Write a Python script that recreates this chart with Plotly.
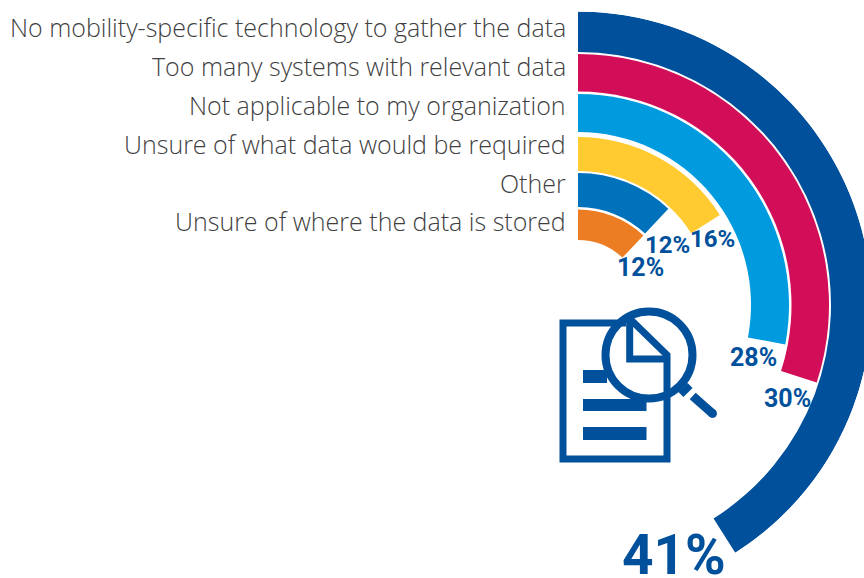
import plotly.graph_objects as go

# --------------------------------------------------
# DATA
# --------------------------------------------------

categories = [
    "No mobility-specific technology to gather the data",
    "Too many systems with relevant data",
    "Not applicable to my organization",
    "Unsure of what data would be required",
    "Other",
    "Unsure of where the data is stored",
]
values = [41, 30, 28, 16, 12, 12]
value_labels = ["41%", "30%", "28%", "16%", "12%", "12%"]

# --------------------------------------------------
# STYLE
# --------------------------------------------------

W, H = 872, 578  # 8 px wider than the window: the outer ring runs off the right edge
CX, CY, R = 578, 305, 293.5

colors = ["#00509B", "#D20E58", "#009ADE", "#FFCB31", "#0072BC", "#ED7D22"]
ring_inner = [253, 213.5, 173, 134, 98, 65]
ring_outer = [293.5, 251, 211, 168, 132, 95.5]
label_y = [27, 66, 105, 144, 183, 221]
value_pos = [(674, 555), (787, 398), (753, 357), (712, 239), (667, 245), (640, 267)]
value_size = [55, 25, 25, 24, 24, 25]
BLUE = "#00509B"


def px(x):
    return x / W


def py(y):
    return 1 - y / H


# --------------------------------------------------
# RINGS
# --------------------------------------------------

fig = go.Figure()

for i, cat in enumerate(categories):
    span = values[i] * 3.6
    fig.add_trace(
        go.Barpolar(
            r=[ring_outer[i] - ring_inner[i]],
            base=[ring_inner[i]],
            theta=[span / 2],
            width=[span],
            name=cat,
            marker=dict(color=colors[i], line=dict(width=0)),
            showlegend=False,
        )
    )

# --------------------------------------------------
# TEXT
# --------------------------------------------------

annotations = []

for cat, y in zip(categories, label_y):
    annotations.append(dict(
        x=px(568), y=py(y), xref="paper", yref="paper",
        text=cat, showarrow=False, xanchor="right", yanchor="middle",
        font=dict(family="Open Sans", size=25, weight=300, color="#3F3F3F"),
    ))

for text, (x, y), size in zip(value_labels, value_pos, value_size):
    annotations.append(dict(
        x=px(x), y=py(y), xref="paper", yref="paper",
        text=text, showarrow=False, xanchor="center", yanchor="middle",
        font=dict(family="Roboto", size=size, weight=700, color=BLUE),
    ))

# --------------------------------------------------
# DOCUMENT + MAGNIFIER ICON
# --------------------------------------------------


def poly(points, close=False):
    d = "M" + " L".join(f"{px(x):.5f},{py(y):.5f}" for x, y in points)
    return d + (" Z" if close else "")


def stroke(points, width):
    return dict(type="path", xref="paper", yref="paper", path=poly(points),
                line=dict(color=BLUE, width=width), fillcolor="rgba(0,0,0,0)")


def block(x0, y0, x1, y1):
    return dict(type="rect", xref="paper", yref="paper",
                x0=px(x0), x1=px(x1), y0=py(y0), y1=py(y1),
                line=dict(width=0), fillcolor=BLUE)


def ring(cx, cy, r, width, fill="rgba(0,0,0,0)"):
    return dict(type="circle", xref="paper", yref="paper",
                x0=px(cx - r), x1=px(cx + r), y0=py(cy + r), y1=py(cy - r),
                line=dict(color=BLUE, width=width), fillcolor=fill)


shapes = [
    # page outline and folded corner
    stroke([(626, 323), (563, 323), (563, 459), (667, 459), (667, 355), (628, 317)], 7),
    stroke([(629.7, 320), (629.7, 359), (667, 359)], 7),
    # text lines
    block(583, 370, 607, 383),
    block(583, 399, 646.5, 411),
    block(583, 427, 646.5, 440),
    # lens, neck, handle
    ring(649, 355, 43.5, 8),
    stroke([(683, 387.5), (688, 392.5)], 13),
    stroke([(692.7, 396), (712.5, 413.5)], 9),
    ring(712.5, 413.5, 4, 1, BLUE),
]

# --------------------------------------------------
# LAYOUT
# --------------------------------------------------

fig.update_layout(
    width=W,
    height=H,
    autosize=False,
    margin=dict(l=0, r=0, t=0, b=0, pad=0),
    paper_bgcolor="white",
    showlegend=False,
    polar=dict(
        domain=dict(x=[px(CX), px(CX + R)], y=[py(CY + R * 0.866), py(CY - R)]),
        sector=[-60, 90],
        bgcolor="rgba(0,0,0,0)",
        radialaxis=dict(visible=False, range=[0, R]),
        angularaxis=dict(visible=False, direction="clockwise", rotation=90),
    ),
    annotations=annotations,
    shapes=shapes,
)

fig.write_html(
    "out.html",
    config=dict(displayModeBar=False),
    post_script="document.body.style.margin='0';document.body.style.overflow='hidden';"
                "document.documentElement.style.overflow='hidden';",
)
